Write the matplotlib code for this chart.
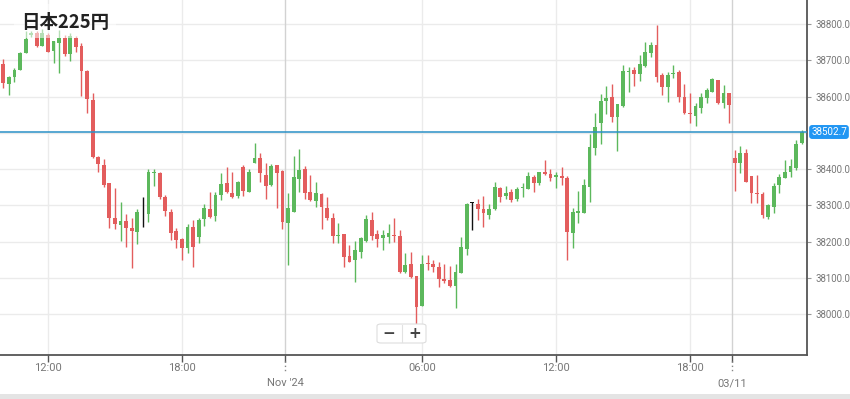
import numpy as np
import matplotlib
matplotlib.use("Agg")
import matplotlib.pyplot as plt
from matplotlib.patches import FancyBboxPatch, Rectangle
from matplotlib.transforms import blended_transform_factory

# 15-minute candles
opens = [38689, 38635, 38655, 38675, 38721, 38770, 38775, 38740, 38771, 38727,
         38749, 38761, 38717, 38761, 38740, 38672, 38591, 38435, 38412, 38361,
         38265, 38246, 38257, 38239, 38228, 38278, 38276, 38390, 38389, 38324,
         38283, 38230, 38208, 38184, 38242, 38214, 38262, 38290, 38272, 38329,
         38361, 38335, 38327, 38405, 38338, 38416, 38430, 38384, 38357, 38412,
         38396, 38251, 38281, 38373, 38401, 38336, 38313, 38332, 38294, 38265,
         38216, 38221, 38161, 38149, 38173, 38203, 38260, 38221, 38210, 38214,
         38220, 38216, 38117, 38138, 38106, 38024, 38142, 38139, 38131, 38097,
         38095, 38079, 38113, 38179, 38308, 38304, 38290, 38274, 38290, 38347,
         38327, 38338, 38317, 38348, 38345, 38379, 38361, 38392, 38387, 38378,
         38381, 38375, 38225, 38280, 38280, 38352, 38458, 38528, 38588, 38598,
         38545, 38574, 38669, 38674, 38663, 38686, 38720, 38743, 38660, 38628,
         38662, 38669, 38598, 38556, 38548, 38568, 38596, 38614, 38646, 38582,
         38609, 38430, 38416, 38446, 38381, 38335, 38331, 38269, 38297, 38357,
         38375, 38392, 38403, 38472]
highs = [38703, 38657, 38680, 38722, 38780, 38780, 38782, 38786, 38775, 38755,
         38784, 38771, 38775, 38768, 38747, 38674, 38611, 38437, 38427, 38363,
         38349, 38309, 38277, 38265, 38290, 38323, 38401, 38401, 38392, 38329,
         38290, 38237, 38211, 38248, 38260, 38265, 38304, 38336, 38336, 38389,
         38407, 38392, 38368, 38412, 38401, 38472, 38444, 38416, 38415, 38412,
         38398, 38334, 38437, 38456, 38409, 38384, 38364, 38335, 38323, 38279,
         38251, 38221, 38191, 38202, 38214, 38274, 38283, 38232, 38232, 38248,
         38265, 38232, 38168, 38172, 38106, 38163, 38163, 38150, 38143, 38139,
         38133, 38139, 38214, 38308, 38311, 38317, 38326, 38304, 38366, 38352,
         38354, 38345, 38350, 38361, 38393, 38384, 38392, 38425, 38400, 38393,
         38407, 38381, 38292, 38340, 38372, 38497, 38554, 38608, 38630, 38635,
         38580, 38687, 38681, 38683, 38715, 38752, 38752, 38798, 38665, 38669,
         38687, 38674, 38635, 38609, 38582, 38609, 38623, 38651, 38646, 38632,
         38611, 38453, 38464, 38455, 38381, 38384, 38338, 38304, 38361, 38386,
         38425, 38428, 38481, 38508]
lows = [38625, 38606, 38641, 38674, 38721, 38764, 38737, 38740, 38722, 38694,
        38666, 38711, 38698, 38722, 38602, 38556, 38430, 38393, 38351, 38237,
        38235, 38203, 38186, 38128, 38194, 38242, 38254, 38355, 38318, 38272,
        38205, 38182, 38150, 38168, 38131, 38196, 38244, 38265, 38258, 38315,
        38334, 38320, 38320, 38327, 38336, 38416, 38366, 38318, 38354, 38294,
        38235, 38136, 38281, 38336, 38318, 38312, 38297, 38235, 38260, 38196,
        38196, 38130, 38145, 38088, 38154, 38200, 38205, 38186, 38177, 38196,
        38198, 38115, 38115, 38099, 37966, 38024, 38122, 38117, 38074, 38087,
        38076, 38017, 38113, 38164, 38232, 38260, 38242, 38263, 38288, 38310,
        38318, 38310, 38313, 38324, 38345, 38336, 38357, 38384, 38368, 38349,
        38357, 38150, 38184, 38251, 38280, 38310, 38439, 38470, 38552, 38529,
        38451, 38571, 38614, 38630, 38644, 38683, 38709, 38641, 38605, 38586,
        38651, 38586, 38552, 38528, 38520, 38554, 38583, 38612, 38579, 38568,
        38528, 38341, 38389, 38366, 38308, 38308, 38265, 38262, 38280, 38334,
        38375, 38379, 38398, 38470]
closes = [38637, 38653, 38674, 38720, 38759, 38776, 38740, 38775, 38724, 38754,
          38761, 38717, 38767, 38738, 38672, 38593, 38435, 38414, 38357, 38266,
          38248, 38257, 38239, 38231, 38281, 38278, 38392, 38393, 38324, 38285,
          38225, 38205, 38182, 38242, 38186, 38260, 38292, 38267, 38329, 38359,
          38338, 38324, 38364, 38340, 38393, 38430, 38389, 38355, 38409, 38390,
          38254, 38294, 38379, 38398, 38335, 38315, 38334, 38295, 38265, 38217,
          38219, 38159, 38145, 38177, 38210, 38262, 38216, 38207, 38219, 38223,
          38217, 38117, 38136, 38102, 38021, 38139, 38138, 38131, 38097, 38093,
          38078, 38116, 38185, 38304, 38308, 38290, 38278, 38290, 38350, 38324,
          38335, 38315, 38345, 38351, 38381, 38361, 38392, 38387, 38375, 38385,
          38375, 38228, 38281, 38286, 38357, 38460, 38516, 38588, 38596, 38543,
          38579, 38671, 38672, 38662, 38690, 38723, 38743, 38655, 38628, 38660,
          38665, 38600, 38554, 38553, 38573, 38600, 38619, 38648, 38582, 38609,
          38577, 38416, 38444, 38366, 38334, 38333, 38274, 38301, 38354, 38379,
          38393, 38409, 38470, 38502.7]

last_price = 38502.7
time_ticks = [8, 32, 75, 99, 123]
time_labels = ["12:00", "18:00", "06:00", "12:00", "18:00"]
date_ticks = [50.5, 130.5]
date_labels = ["Nov '24", "03/11"]
y_ticks = [38000, 38100, 38200, 38300, 38400, 38500, 38600, 38700, 38800]

GREEN = "#5cb85c"
RED = "#e35d5d"
AX_COL = "#555555"
TXT_COL = "#777777"

fig = plt.figure(figsize=(8.5, 3.99), dpi=100)
ax = fig.add_axes([0, 44 / 399, 806.7 / 850, 355 / 399])

o = np.array(opens, dtype=float)
h = np.array(highs, dtype=float)
l = np.array(lows, dtype=float)
c = np.array(closes, dtype=float)
x = np.arange(len(o))
cols = np.where(c > o, GREEN, np.where(c < o, RED, "#111111"))

ax.vlines(x, l, h, colors=cols, linewidth=1.0, zorder=3)
body = np.maximum(np.abs(c - o), 2.0)
ax.bar(x, body, bottom=np.minimum(o, c), width=0.68, color=cols,
       linewidth=0, zorder=4)

ax.set_xlim(-0.59, 143.9)
ax.set_ylim(37887.7, 38866.7)

# grid
for yv in y_ticks:
    ax.axhline(yv, color="#ebebeb", linewidth=1, zorder=1)
for xv in time_ticks:
    ax.axvline(xv, color="#ebebeb", linewidth=1, zorder=1)
for xv in date_ticks:
    ax.axvline(xv, color="#d2d2d2", linewidth=1, zorder=1)

ax.axhline(last_price, color="#2a90c6", linewidth=1.1, zorder=5)

for s in ["top", "left"]:
    ax.spines[s].set_visible(False)
for s in ["right", "bottom"]:
    ax.spines[s].set_color(AX_COL)
    ax.spines[s].set_linewidth(1.3)

ax.yaxis.tick_right()
shown = [v for v in y_ticks if v != 38500]
ax.set_yticks(shown)
ax.set_yticklabels([f"{v:.1f}" for v in shown],
                   fontsize=6.9, color=TXT_COL, family="Roboto")
ax.tick_params(axis="y", length=3, width=0.8, color="#999999", pad=3)

ax.set_xticks(time_ticks + date_ticks)
ax.set_xticklabels([])
ax.tick_params(axis="x", length=5, width=1, color=AX_COL)

tr = blended_transform_factory(ax.transData, ax.transAxes)
for xv, lab in zip(time_ticks, time_labels):
    ax.text(xv, -0.037, lab, transform=tr, ha="center", va="center",
            fontsize=8, color=TXT_COL, family="Roboto")
for xv, lab in zip(date_ticks, date_labels):
    ax.plot([xv, xv], [-0.016, -0.05], transform=tr, color="#888888",
            linewidth=1, linestyle=(0, (1, 2)), clip_on=False)
    ax.text(xv, -0.079, lab, transform=tr, ha="center", va="center",
            fontsize=8, color=TXT_COL, family="Roboto")

# current price tag
ax.text(1.0055, last_price, f"{last_price:.1f}",
        transform=blended_transform_factory(ax.transAxes, ax.transData),
        ha="left", va="center", fontsize=7.1, color="white", family="Roboto",
        bbox=dict(boxstyle="round,pad=0.2,rounding_size=0.3",
                  fc="#2196f3", ec="none"), zorder=6, clip_on=False)

# translucent backdrop behind the title
fig.patches.append(Rectangle((14 / 850, 1 - 37.5 / 399), 102 / 850, 33 / 399,
                             transform=fig.transFigure, fc="white", ec="none",
                             alpha=0.55, zorder=9))
fig.text(21 / 850, 1 - 22 / 399, "日本225円", ha="left", va="center",
         fontsize=13.3, fontweight="bold", color="#222222",
         family=["Noto Sans CJK JP", "DejaVu Sans"], zorder=10)

# zoom buttons
bx = FancyBboxPatch((377 / 850, 1 - 343 / 399), 49 / 850, 19 / 399,
                    boxstyle="round,pad=0,rounding_size=0.005",
                    transform=fig.transFigure, fc="white", ec="#dddddd",
                    linewidth=0.8, zorder=10)
fig.patches.append(bx)
fig.add_artist(plt.Line2D([402 / 850, 402 / 850], [1 - 342 / 399, 1 - 325 / 399],
                          color="#e2e2e2", linewidth=0.8, zorder=11))
fig.text(389 / 850, 1 - 334 / 399, "−", ha="center", va="center", fontsize=11,
         fontweight="bold", color="#444444", zorder=12)
fig.text(415 / 850, 1 - 334 / 399, "+", ha="center", va="center", fontsize=11,
         fontweight="bold", color="#444444", zorder=12)

# bottom strip
fig.patches.append(Rectangle((0, 0), 1, 5 / 399, transform=fig.transFigure,
                             fc="#e4e4e4", ec="none", zorder=0))

fig.savefig("out.png", dpi=100)
